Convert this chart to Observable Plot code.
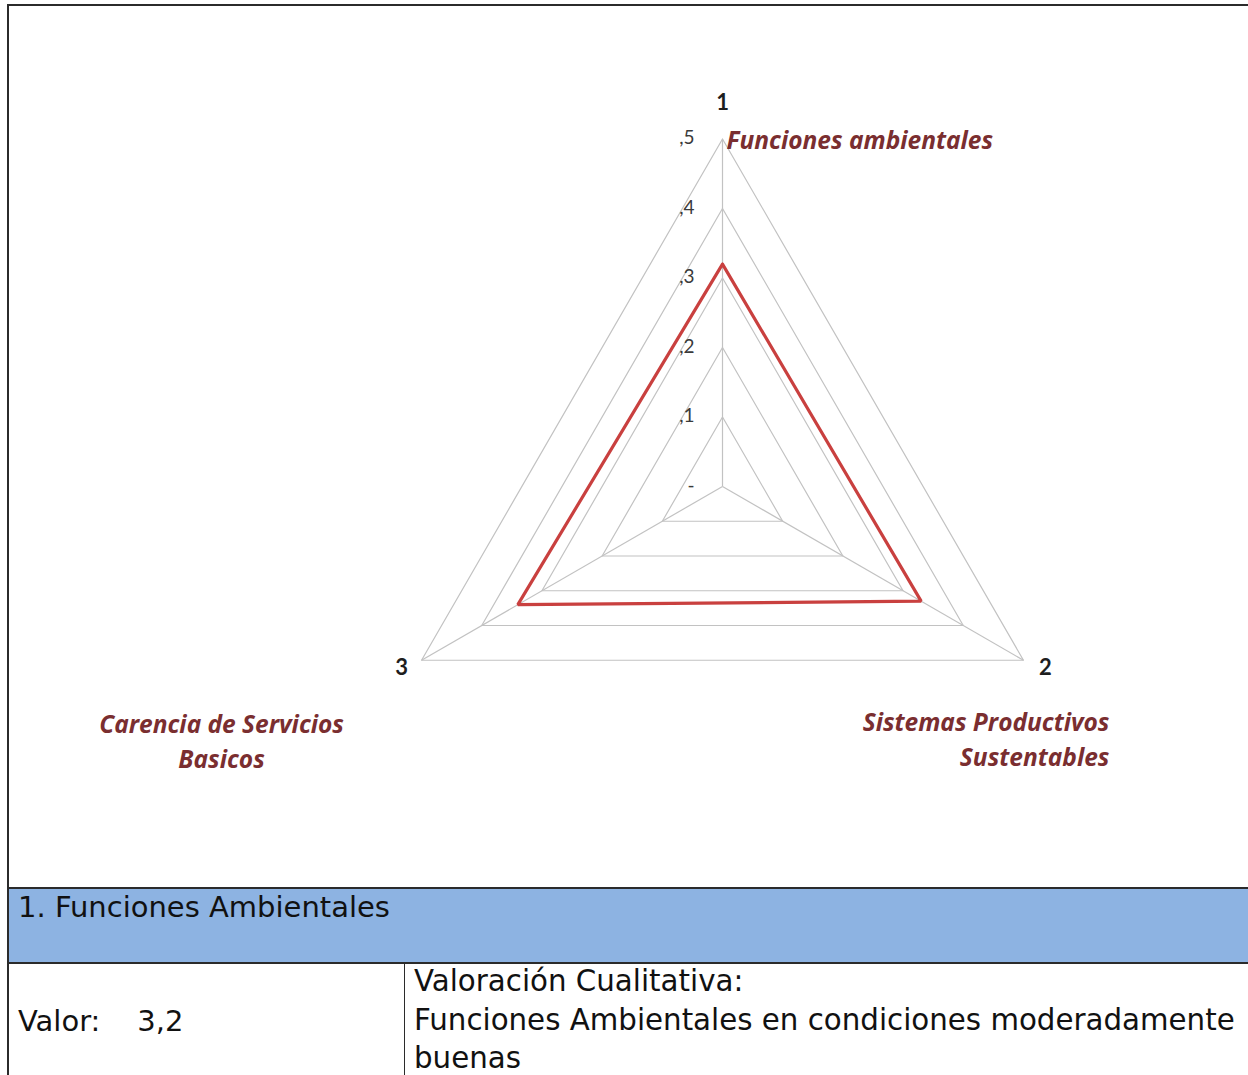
<!DOCTYPE html>
<html>
<head>
<meta charset="utf-8">
<script src="https://cdn.jsdelivr.net/npm/d3@7"></script>
<script src="https://cdn.jsdelivr.net/npm/@observablehq/plot@0.6"></script>
<style>
  html, body { margin: 0; padding: 0; background: #fff; }
  #page { position: relative; width: 1248px; height: 1075px; overflow: hidden; background: #fff; }
  #chart { position: absolute; left: 0; top: 0; }
  .ln { position: absolute; background: #2b2b2b; }
  .cell { position: absolute; font-family: "DejaVu Sans", sans-serif; font-size: 29px; color: #111; white-space: nowrap; }
</style>
</head>
<body>
<div id="page">
  <div id="chart"></div>
  <div class="ln" style="left:8px;top:4px;width:1240px;height:2px;"></div>
  <div class="ln" style="left:7px;top:4px;width:2px;height:1071px;"></div>
  <div style="position:absolute;left:9px;top:889px;width:1239px;height:74px;background:#8db3e2;"></div>
  <div class="ln" style="left:8px;top:887px;width:1240px;height:2px;"></div>
  <div class="ln" style="left:8px;top:962px;width:1240px;height:2px;"></div>
  <div class="ln" style="left:404px;top:964px;width:1px;height:111px;"></div>
  <div class="cell" id="hdr" style="left:18px;top:888px;line-height:38px;"></div>
  <div class="cell" id="val" style="left:18px;top:1002px;line-height:38px;"></div>
  <div class="cell" id="qual" style="left:414px;top:962px;line-height:38.5px;font-size:29.3px;"></div>
</div>
<script>
// ---- data ----
const categories = ["Funciones ambientales", "Sistemas Productivos\nSustentables", "Carencia de Servicios\nBasicos"];
const axisNumbers = ["1", "2", "3"];
const seriesValues = [3.2, 3.3, 3.4];
const levels = [0, 1, 2, 3, 4, 5];
const tickLabels = ["-", ",1", ",2", ",3", ",4", ",5"];
const maxLevel = 5;
const headerText = "1. Funciones Ambientales";
const valueLabel = "Valor:";
const valueText = "3,2";
const qualitativeLines = ["Valoración Cualitativa:", "Funciones Ambientales en condiciones moderadamente", "buenas"];

// ---- derived geometry (polar -> cartesian in data units) ----
const angle = i => (i * 2 * Math.PI) / categories.length;
const px = (i, r) => r * Math.sin(angle(i));
const py = (i, r) => r * Math.cos(angle(i));

const ringPoints = [];
for (const L of levels.filter(l => l > 0)) {
  for (let k = 0; k <= categories.length; k++) {
    const i = k % categories.length;
    ringPoints.push({level: L, x: px(i, L), y: py(i, L)});
  }
}
const spokes = categories.map((c, i) => ({x1: 0, y1: 0, x2: px(i, maxLevel), y2: py(i, maxLevel)}));
const seriesPoints = [];
for (let k = 0; k <= seriesValues.length; k++) {
  const i = k % seriesValues.length;
  seriesPoints.push({x: px(i, seriesValues[i]), y: py(i, seriesValues[i])});
}
const ticks = levels.map((L, j) => ({x: 0, y: L, label: tickLabels[j]}));
const verts = categories.map((c, i) => ({x: px(i, maxLevel), y: py(i, maxLevel), num: axisNumbers[i], cat: c}));

const cx = 722, cy = 486, unit = 69.5;
const numFont = "Lato, 'Open Sans', sans-serif";
const catFont = "'Open Sans', Lato, sans-serif";
const catColor = "#7a2e30";

const chart = Plot.plot({
  width: 1248,
  height: 888,
  margin: 0,
  x: {domain: [-maxLevel, maxLevel], range: [cx - unit * maxLevel, cx + unit * maxLevel], axis: null},
  y: {domain: [-maxLevel, maxLevel], range: [cy + unit * maxLevel, cy - unit * maxLevel], axis: null},
  style: {background: "transparent", overflow: "visible"},
  marks: [
    Plot.link(spokes, {x1: "x1", y1: "y1", x2: "x2", y2: "y2", stroke: "#c2c2c2", strokeWidth: 1.2}),
    Plot.line(ringPoints, {x: "x", y: "y", z: "level", stroke: "#c2c2c2", strokeWidth: 1.2, curve: "linear"}),
    Plot.line(seriesPoints, {x: "x", y: "y", stroke: "#c9403f", strokeWidth: 3.2, strokeLinejoin: "miter"}),
    Plot.text(ticks, {x: "x", y: "y", text: "label", textAnchor: "end", dx: -28, dy: -1, fontSize: 19, fill: "#3a3a3a", fontFamily: numFont}),
    Plot.text(verts.slice(0, 1), {x: "x", y: "y", text: "num", dy: -36, fontSize: 22, fontWeight: "bold", fill: "#1e1e1e", fontFamily: numFont}),
    Plot.text(verts.slice(1, 2), {x: "x", y: "y", text: "num", dx: 22, dy: 8, fontSize: 22, fontWeight: "bold", fill: "#1e1e1e", fontFamily: numFont}),
    Plot.text(verts.slice(2, 3), {x: "x", y: "y", text: "num", dx: -20, dy: 8, fontSize: 22, fontWeight: "bold", fill: "#1e1e1e", fontFamily: numFont}),
    Plot.text(verts.slice(0, 1), {x: "x", y: "y", text: "cat", textAnchor: "start", dx: 4, dy: 2, fontSize: 24.5, fontWeight: "bold", fontStyle: "italic", fill: catColor, fontFamily: catFont}),
    Plot.text(verts.slice(1, 2), {x: "x", y: "y", text: "cat", textAnchor: "end", lineAnchor: "top", lineHeight: 1.43, dx: 86, dy: 46, fontSize: 24.5, fontWeight: "bold", fontStyle: "italic", fill: catColor, fontFamily: catFont}),
    Plot.text(verts.slice(2, 3), {x: "x", y: "y", text: "cat", textAnchor: "middle", lineAnchor: "top", lineHeight: 1.43, dx: -200, dy: 48, fontSize: 24.5, fontWeight: "bold", fontStyle: "italic", fill: catColor, fontFamily: catFont})
  ]
});
document.getElementById("chart").appendChild(chart);

document.getElementById("hdr").textContent = headerText;
document.getElementById("val").innerHTML = valueLabel + '<span style="display:inline-block;width:37px"></span>' + valueText;
document.getElementById("qual").innerHTML = qualitativeLines.map(s => s.replace(/&/g, "&amp;").replace(/</g, "&lt;")).join("<br>");
</script>
</body>
</html>
